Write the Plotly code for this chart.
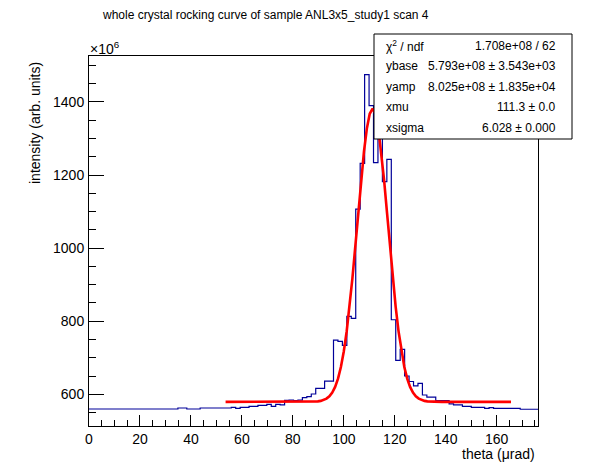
import numpy as np
import plotly.graph_objects as go

# ── Data ──────────────────────────────────────────────────────────────────
# histogram: 101 equal bins over 0..176.2 urad, contents in units of 1e6
X_MIN, X_MAX, N_BINS = 0.0, 176.2, 101

COUNTS = (
    [559.7] * 20                                   # bins 0-19
    + [562.5] * 2 + [559.7] * 3 + [562.5] * 7      # 20-31
    + [564.4, 561.6, 564.4, 564.4, 567.1, 567.1]   # 32-37
    + [569.9, 569.9, 572.6, 567.1, 572.6, 571.0]   # 38-43
    + [583.6, 584.0, 583.0, 584.0, 590.7, 593.4]   # 44-49
    + [600.8, 616.4, 616.4, 636.0, 636.0]          # 50-54
    + [748.0, 745.0, 734.0, 813.0, 808.0]          # 55-59
    + [1107.0, 1232.0, 1475.0, 1390.0, 1234.0]     # 60-64
    + [1320.0, 1182.0, 1243.0, 804.0, 693.0]       # 65-69
    + [723.0, 650.0, 635.0, 623.0, 630.0]          # 70-74
    + [598.0, 592.0, 592.0, 583.0, 583.0, 583.0]   # 75-80
    + [574.0, 571.0, 571.0, 567.0, 567.0]          # 81-85
    + [564.0, 564.0, 564.0, 561.7, 563.5]          # 86-90
    + [561.5] * 6 + [559.0] * 4                    # 91-100
)

# gaussian fit result (y in units of 1e6)
FIT_YBASE = 579.3
FIT_YAMP = 802.5
FIT_XMU = 111.3
FIT_XSIGMA = 6.028
FIT_RANGE = (53.6, 165.6)

STAT_LABELS = ["χ<sup>2</sup> / ndf", "ybase", "yamp", "xmu", "xsigma"]
STAT_VALUES = [
    "1.708e+08 / 62",
    "5.793e+08 ± 3.543e+03",
    "8.025e+08 ± 1.835e+04",
    "111.3 ± 0.0",
    "6.028 ± 0.000",
]

TITLE = "whole crystal rocking curve of sample ANL3x5_study1 scan 4"
X_TITLE = "theta (μrad)"
Y_TITLE = "intensity (arb. units)"
Y_RANGE = (513.2, 1525.8)

FONT = "Liberation Sans, Arial, sans-serif"

# frame position in pixels
L, R, T, B = 89, 538, 56, 426
W, H = 598, 474


def px(x):
    return (x - L) / (R - L)


def py(y):
    return (B - y) / (B - T)


edges = np.linspace(X_MIN, X_MAX, N_BINS + 1)
fit_x = np.linspace(FIT_RANGE[0], FIT_RANGE[1], 100)
fit_y = FIT_YBASE + FIT_YAMP * np.exp(-0.5 * ((fit_x - FIT_XMU) / FIT_XSIGMA) ** 2)

fig = go.Figure()
fig.add_trace(go.Scatter(
    x=edges, y=COUNTS + [COUNTS[-1]], mode="lines", line_shape="hv",
    line=dict(color="#000099", width=1.2), hoverinfo="skip",
))
fig.add_trace(go.Scatter(
    x=fit_x, y=fit_y, mode="lines",
    line=dict(color="#ff0000", width=2.6), hoverinfo="skip",
))

axis_common = dict(
    showgrid=False, zeroline=False, showline=True, linecolor="black",
    linewidth=1, mirror=True, ticks="inside", tickcolor="black", tickwidth=1,
    tickfont=dict(family=FONT, size=14, color="black"),
)
fig.update_xaxes(
    range=[X_MIN, X_MAX], tick0=0, dtick=20, ticklen=11,
    minor=dict(ticks="inside", dtick=5, ticklen=6, tickcolor="black"),
    **axis_common,
)
fig.update_yaxes(
    range=list(Y_RANGE), tick0=0, dtick=200, ticklen=15,
    minor=dict(ticks="inside", dtick=50, ticklen=7, tickcolor="black"),
    ticklabelstandoff=1,
    **axis_common,
)

ann = [
    dict(text=TITLE, x=px(265.5), y=py(15), font=dict(size=12)),
    dict(text=Y_TITLE, x=px(35), y=py(60), textangle=-90, yanchor="top",
         font=dict(size=14)),
    dict(text=X_TITLE, x=px(537), y=py(454), xanchor="right", font=dict(size=14)),
    dict(text="×10<sup>6</sup>", x=px(88), y=py(48), xanchor="left",
         font=dict(size=14)),
]
row_y = [45.7, 66.3, 87.0, 107.2, 128.3]
for lab, val, yy in zip(STAT_LABELS, STAT_VALUES, row_y):
    ann.append(dict(text=lab, x=px(384), y=py(yy), xanchor="left", font=dict(size=12)))
    ann.append(dict(text=val, x=px(557.5), y=py(yy), xanchor="right", font=dict(size=12)))
for a in ann:
    a.update(xref="paper", yref="paper", showarrow=False)
    a.setdefault("xanchor", "center")
    a.setdefault("yanchor", "middle")
    a["font"].update(family=FONT, color="black")

fig.update_layout(
    width=W, height=H, autosize=False,
    margin=dict(l=L, r=W - R, t=T, b=H - B, pad=0),
    paper_bgcolor="white", plot_bgcolor="white",
    showlegend=False, annotations=ann,
    shapes=[dict(type="rect", xref="paper", yref="paper",
                 x0=px(374), x1=px(572), y0=py(139), y1=py(34),
                 line=dict(color="black", width=1), fillcolor="white",
                 layer="above")],
)

fig.write_html("out.html", config={"displayModeBar": False},
               post_script="document.body.style.margin='0';")
